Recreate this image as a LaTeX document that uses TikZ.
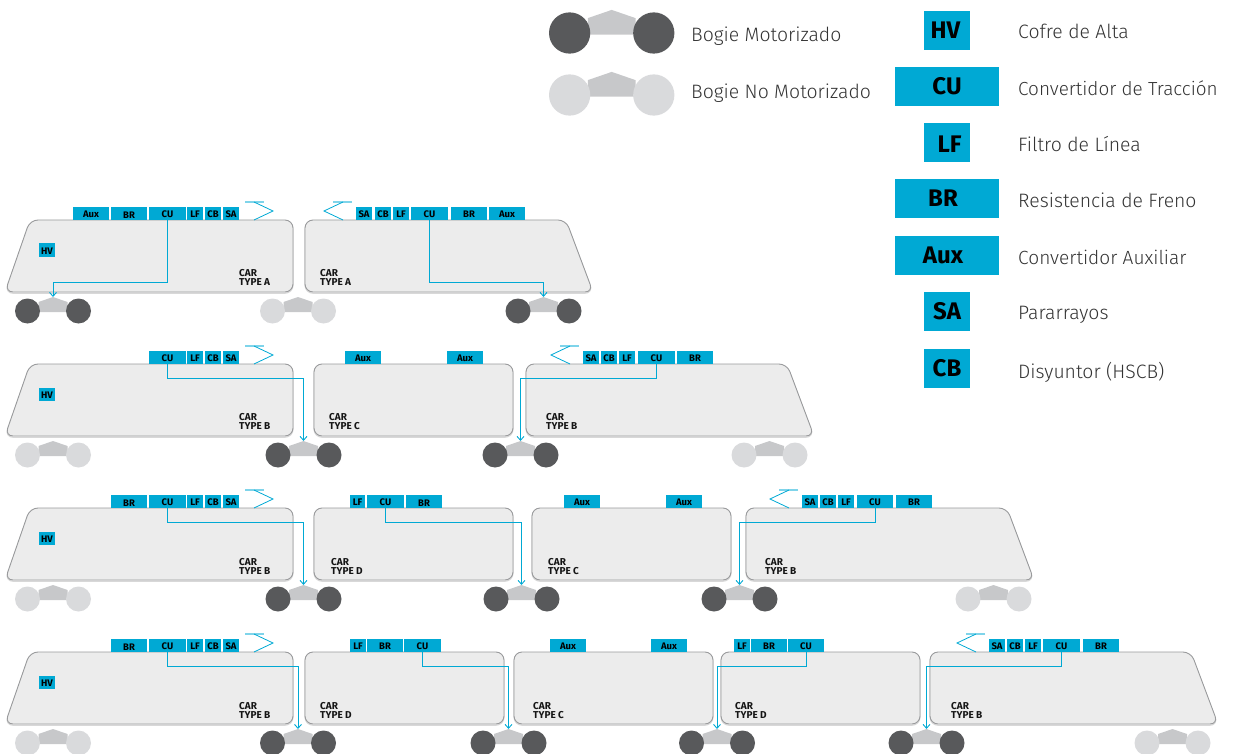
\documentclass[tikz,border=0pt]{standalone}
\usepackage{fontspec}
\setmainfont{Fira Sans}
\newfontfamily\lightfont{Fira Sans Light}
\usetikzlibrary{arrows.meta,calc}
\definecolor{unitblue}{HTML}{00A9D4}
\definecolor{panbar}{HTML}{7FD4EA}
\definecolor{carfill}{HTML}{ECECEC}
\definecolor{caredge}{HTML}{999A9C}
\definecolor{carshade}{HTML}{D8D8D8}
\definecolor{motorwheel}{HTML}{58595B}
\definecolor{idlewheel}{HTML}{D9DADC}
\definecolor{bogiebody}{HTML}{C7C8CA}
\definecolor{inktext}{HTML}{151515}
\definecolor{legendtext}{HTML}{333333}
\tikzset{
  unitbox/.style={fill=unitblue,inner sep=0pt,text=black,text height=8.5pt,text depth=0pt,font=\fontsize{9.5}{9}\selectfont\bfseries,align=center},
  bigbox/.style={fill=unitblue,inner sep=0pt,text=black,text height=16.5pt,text depth=0pt,font=\fontsize{24}{24}\selectfont\bfseries,align=center},
  legendlabel/.style={anchor=west,inner sep=0pt,text=legendtext,font=\fontsize{19.4}{20}\lightfont},
  cartext/.style={anchor=west,inner sep=0pt,align=left,text=inktext,font=\fontsize{10}{9}\selectfont\bfseries},
  carbody/.style={fill=carfill,draw=caredge,line width=0.9pt,rounded corners=8pt},
  carshadow/.style={draw=carshade,line width=1.2pt,rounded corners=8pt,yshift=-1.2pt},
  connector/.style={draw=unitblue,line width=0.9pt,-{Straight Barb[length=4pt,width=7pt]}},
  panline/.style={draw=unitblue,line width=0.8pt},
  panbarline/.style={draw=panbar,line width=1.2pt},
}
% unit box: name, x1, x2, ytop, ybottom, label
\newcommand{\ubox}[7][unitbox]{%
  \pgfmathsetmacro{\uw}{(#4)-(#3)}\pgfmathsetmacro{\uh}{(#6)-(#5)}%
  \node[#1,minimum width=\uw pt,minimum height=\uh pt] (#2) at ({(#3+#4)/2},{(#5+#6)/2}) {#7};}
% roof boxes sit 13 above the car top
\newcommand{\rbox}[5]{\ubox{#1}{#2}{#3}{#4-13}{#4}{#5}}
% cars: x, top
\newcommand{\carcab}[2]{%
  \draw[carshadow] (#1+27,#2) -- (#1+290,#2) -- (#1+290,#2+72) -- (#1+2,#2+72) -- cycle;
  \draw[carbody] (#1+27,#2) -- (#1+290,#2) -- (#1+290,#2+72) -- (#1+2,#2+72) -- cycle;}
\newcommand{\carcabr}[2]{%
  \draw[carshadow] (#1,#2) -- (#1+261,#2) -- (#1+288,#2+72) -- (#1,#2+72) -- cycle;
  \draw[carbody] (#1,#2) -- (#1+261,#2) -- (#1+288,#2+72) -- (#1,#2+72) -- cycle;}
\newcommand{\carmid}[3]{%
  \draw[carshadow] (#1,#3) rectangle (#2,#3+72);
  \draw[carbody] (#1,#3) rectangle (#2,#3+72);}
% bogie: name, cx, cy, scale, wheel colour
\newcommand{\bogie}[5]{%
  \begin{scope}[shift={(#2,#3)},scale=#4]
    \fill[bogiebody] (-14.5,-9) -- (0,-14) -- (14.5,-9) -- (14.5,1) -- (-14.5,1) -- cycle;
    \coordinate (#1) at (0,-14);
    \node[circle,fill=#5,inner sep=0pt,minimum size=25pt,transform shape] (#1-l) at (-25.5,0) {};
    \node[circle,fill=#5,inner sep=0pt,minimum size=25pt,transform shape] (#1-r) at (25.5,0) {};
  \end{scope}}
\newcommand{\mot}[3]{\bogie{#1}{#2}{#3}{1}{motorwheel}}
\newcommand{\idl}[3]{\bogie{#1}{#2}{#3}{1}{idlewheel}}
% pantographs: join x, car top
\newcommand{\panr}[2]{%
  \draw[panbarline] (#1-9,#2-18) -- (#1+10,#2-18);
  \draw[panline] (#1,#2-18) -- (#1+19,#2-9) -- (#1,#2);}
\newcommand{\panl}[2]{%
  \draw[panbarline] (#1+9,#2-18) -- (#1-10,#2-18);
  \draw[panline] (#1,#2-18) -- (#1-19,#2-9) -- (#1,#2);}
% connector: from node, mid y, to coordinate
\newcommand{\link}[3]{\draw[connector] (#1.south) -- (#1.south |- 0,#2) -| (#3);}
\newcommand{\cartag}[4]{\node[cartext] (#1) at (#2,#3) {CAR\\TYPE #4};}
\begin{document}
\begin{tikzpicture}[x=1pt,y=-1pt]
\clip (0,0) rectangle (1234,754);
% ---------- legend
\bogie{lgm}{611.7}{33}{1.65}{motorwheel}
\bogie{lgi}{611.7}{95}{1.65}{idlewheel}
\node[legendlabel] (lgmt) at (691,36) {Bogie Motorizado};
\node[legendlabel] (lgit) at (691,93) {Bogie No Motorizado};
\ubox[bigbox]{kHV}{924}{970}{11}{50}{\hspace*{-3pt}HV}
\ubox[bigbox]{kCU}{895}{999}{67}{106}{CU}
\ubox[bigbox]{kLF}{924}{970}{123}{162}{\raisebox{-1.5pt}{\hspace*{5pt}LF}}
\ubox[bigbox]{kBR}{895}{999}{179}{218}{\hspace*{-8pt}BR}
\ubox[bigbox]{kAux}{895}{999}{236}{275}{\hspace*{-8pt}Aux}
\ubox[bigbox]{kSA}{924}{970}{292}{331}{SA}
\ubox[bigbox]{kCB}{924}{970}{349}{388}{CB}
\node[legendlabel] (tHV) at (1018,31) {Cofre de Alta};
\node[legendlabel,font=\fontsize{18.9}{20}\lightfont] (tCU) at (1018,88) {Convertidor de Tracción};
\node[legendlabel] (tLF) at (1018,144) {Filtro de Línea};
\node[legendlabel] (tBR) at (1018,200) {Resistencia de Freno};
\node[legendlabel,font=\fontsize{19.1}{20}\lightfont] (tAux) at (1018,257) {Convertidor Auxiliar};
\node[legendlabel] (tSA) at (1018,315) {Pararrayos};
\node[legendlabel] (tCB) at (1018,372) {Disyuntor (HSCB)};
% ---------- row 1
\carcab{3}{220}\carcabr{305}{220}
\rbox{aAux}{73}{109}{220}{Aux}\rbox{aBR}{111}{147}{220}{\raisebox{-1pt}{BR}}\rbox{aCU}{149}{186}{220}{CU}
\rbox{aLF}{187}{203}{220}{LF}\rbox{aCB}{205}{221}{220}{CB}\rbox{aSA}{223}{239}{220}{SA}
\panr{254}{220}
\ubox{aHV}{39}{55}{243}{257}{HV}
\cartag{aT1}{239}{277}{A}
\rbox{bSA}{356}{372}{220}{SA}\rbox{bCB}{375}{391}{220}{CB}\rbox{bLF}{393}{409}{220}{LF}
\rbox{bCU}{411}{448}{220}{CU}\rbox{bBR}{451}{487}{220}{BR}\rbox{bAux}{489}{525}{220}{Aux}
\panl{343}{220}
\cartag{aT2}{320}{277}{A}
\mot{a1}{53}{311}\idl{a2}{298}{311}\mot{a3}{543.5}{311}
\link{aCU}{282}{a1}\link{bCU}{282}{a3}
% ---------- row 2
\carcab{3}{364}\carmid{314}{513}{364}\carcabr{526}{364}
\rbox{cCU}{149}{186}{364}{CU}\rbox{cLF}{187}{203}{364}{LF}\rbox{cCB}{205}{221}{364}{CB}\rbox{cSA}{223}{239}{364}{SA}
\panr{254}{364}
\ubox{cHV}{39}{55}{388}{401}{HV}
\cartag{cT1}{239}{421.5}{B}
\rbox{dAux1}{345}{381}{364}{Aux}\rbox{dAux2}{447}{483}{364}{Aux}
\cartag{cT2}{329}{422}{C}
\rbox{eSA}{583}{599}{364}{SA}\rbox{eCB}{601}{617}{364}{CB}\rbox{eLF}{619}{635}{364}{LF}
\rbox{eCU}{638}{675}{364}{CU}\rbox{eBR}{677}{713}{364}{BR}
\panl{570}{364}
\cartag{cT3}{546}{421.5}{B}
\idl{c1}{53}{455}\mot{c2}{303.5}{455}\mot{c3}{520.5}{455}\idl{c4}{769.5}{455}
\link{cCU}{378.5}{c2}\link{eCU}{378.5}{c3}
% ---------- row 3
\carcab{3}{508}\carmid{314}{513}{508}\carmid{532}{731}{508}\carcabr{746}{508}
\rbox{fBR}{111}{147}{508}{\raisebox{-1pt}{BR}}\rbox{fCU}{149}{186}{508}{CU}\rbox{fLF}{187}{203}{508}{LF}\rbox{fCB}{205}{221}{508}{CB}\rbox{fSA}{223}{239}{508}{SA}
\panr{254}{508}
\ubox{fHV}{39}{55}{532}{545}{HV}
\cartag{fT1}{239}{566}{B}
\rbox{gLF}{350}{365}{508}{LF}\rbox{gCU}{367}{404}{508}{CU}\rbox{gBR}{406}{442}{508}{\raisebox{-1pt}{BR}}
\cartag{fT2}{331}{566.5}{D}
\rbox{hAux1}{564}{600}{508}{Aux}\rbox{hAux2}{666}{702}{508}{Aux}
\cartag{fT3}{548}{566.5}{C}
\rbox{iSA}{802}{818}{508}{SA}\rbox{iCB}{820}{836}{508}{CB}\rbox{iLF}{838}{854}{508}{LF}
\rbox{iCU}{857}{893}{508}{CU}\rbox{iBR}{896}{932}{508}{BR}
\panl{789}{508}
\cartag{fT4}{765}{566}{B}
\idl{f1}{53}{599}\mot{f2}{303.5}{599}\mot{f3}{521.5}{599}\mot{f4}{739.5}{599}\idl{f5}{993.5}{599}
\link{fCU}{522}{f2}\link{gCU}{522}{f3}\link{iCU}{522}{f4}
% ---------- row 4
\carcab{3}{652}\carmid{305}{504}{652}\carmid{514}{713}{652}\carmid{721}{920}{652}\carcabr{930}{652}
\rbox{jBR}{111}{147}{652}{\raisebox{-1pt}{BR}}\rbox{jCU}{149}{186}{652}{CU}\rbox{jLF}{187}{203}{652}{LF}\rbox{jCB}{205}{221}{652}{CB}\rbox{jSA}{223}{239}{652}{SA}
\panr{254}{652}
\ubox{jHV}{39}{55}{676}{689}{HV}
\cartag{jT1}{239}{710.5}{B}
\rbox{kkLF}{350}{366}{652}{LF}\rbox{kkBR}{367}{403}{652}{BR}\rbox{kkCU}{404}{441}{652}{CU}
\cartag{jT2}{320}{710.5}{D}
\rbox{lAux1}{550}{586}{652}{Aux}\rbox{lAux2}{651}{687}{652}{Aux}
\cartag{jT3}{533}{710.5}{C}
\rbox{mLF}{734}{750}{652}{LF}\rbox{mBR}{751}{787}{652}{BR}\rbox{mCU}{788}{824}{652}{CU}
\cartag{jT4}{735}{710.5}{D}
\rbox{nSA}{989}{1005}{652}{SA}\rbox{nCB}{1007}{1023}{652}{CB}\rbox{nLF}{1025}{1041}{652}{LF}
\rbox{nCU}{1043}{1080}{652}{CU}\rbox{nBR}{1083}{1119}{652}{BR}
\panl{976}{652}
\cartag{jT5}{951}{710.5}{B}
\idl{j1}{53}{743}\mot{j2}{298}{743}\mot{j3}{508.5}{743}\mot{j4}{717}{743}\mot{j5}{926.5}{743}\idl{j6}{1172.5}{743}
\link{jCU}{666.5}{j2}\link{kkCU}{666.5}{j3}\link{mCU}{666.5}{j4}\link{nCU}{666.5}{j5}
\end{tikzpicture}
\end{document}
